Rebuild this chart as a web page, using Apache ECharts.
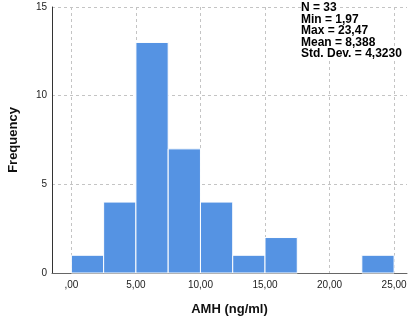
<!DOCTYPE html>
<html>
<head>
<meta charset="utf-8">
<script src="https://cdn.jsdelivr.net/npm/echarts@6/dist/echarts.min.js"></script>
<style>
  html, body { margin: 0; padding: 0; background: #fff; }
  #chart { width: 408px; height: 324px; }
</style>
</head>
<body>
<div id="chart"></div>
<script>
// histogram bins of AMH (ng/ml)
const binStarts = [0, 2.5, 5, 7.5, 10, 12.5, 15, 17.5, 20, 22.5];
const binWidth = 2.5;
const frequencies = [1, 4, 13, 7, 4, 1, 2, 0, 0, 1];

const xTickValues = [0, 5, 10, 15, 20, 25];
const xTickLabels = [',00', '5,00', '10,00', '15,00', '20,00', '25,00'];

const statLines = ['N = 33', 'Min = 1,97', 'Max = 23,47', 'Mean = 8,388', 'Std. Dev. = 4,3230'];

const font = 'Liberation Sans, Arial, sans-serif';
const barColor = '#5593e3';
const gridColor = '#c4c4c4';

const chart = echarts.init(document.getElementById('chart'), null, { renderer: 'canvas' });

const bins = binStarts.map((start, i) => [start, start + binWidth, frequencies[i]]);

chart.setOption({
  animation: false,
  grid: { left: 52, right: 1, top: 7, bottom: 51, containLabel: false, outerBoundsMode: 'none' },
  xAxis: {
    type: 'value',
    min: -1.5,
    max: 26,
    name: 'AMH (ng/ml)',
    nameLocation: 'middle',
    nameGap: 30,
    nameTextStyle: { fontFamily: font, fontSize: 13, fontWeight: 'bold', color: '#111' },
    axisLine: { show: true, onZero: false, lineStyle: { color: '#666', width: 1 } },
    axisTick: { show: false, customValues: xTickValues },
    axisLabel: {
      customValues: xTickValues,
      margin: 7,
      fontFamily: font,
      fontSize: 10,
      color: '#222',
      formatter: (v) => xTickLabels[xTickValues.indexOf(v)] ?? ''
    },
    splitLine: { show: true, lineStyle: { color: gridColor, type: [3, 3], width: 1 } }
  },
  yAxis: {
    type: 'value',
    min: 0,
    max: 15,
    interval: 5,
    name: 'Frequency',
    nameLocation: 'middle',
    nameGap: 32,
    nameTextStyle: { fontFamily: font, fontSize: 13, fontWeight: 'bold', color: '#111' },
    axisLine: { show: true, onZero: false, lineStyle: { color: '#333', width: 1 } },
    axisTick: { show: false },
    axisLabel: { margin: 5, fontFamily: font, fontSize: 10, color: '#222' },
    splitLine: { show: true, lineStyle: { color: gridColor, type: [3, 3], width: 1 } }
  },
  series: [{
    type: 'custom',
    data: bins,
    encode: { x: [0, 1], y: 2 },
    renderItem: (params, api) => {
      if (api.value(2) <= 0) return null;
      const p0 = api.coord([api.value(0), 0]);
      const p1 = api.coord([api.value(1), api.value(2)]);
      return {
        type: 'rect',
        shape: { x: p0[0], y: p1[1], width: p1[0] - p0[0], height: p0[1] - p1[1] },
        style: { fill: barColor, stroke: '#fff', lineWidth: 1 }
      };
    }
  }],
  graphic: [{
    type: 'text',
    left: 301,
    top: 2,
    z: 10,
    style: {
      text: statLines.map((s) => '{a|' + s + '}').join('\n'),
      rich: {
        a: {
          fontFamily: font,
          fontSize: 12,
          fontWeight: 'bold',
          fill: '#000',
          lineHeight: 11.5,
          backgroundColor: '#fff'
        }
      }
    }
  }]
});
</script>
</body>
</html>
